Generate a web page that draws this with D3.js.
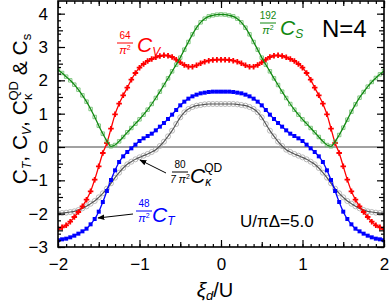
<!DOCTYPE html>
<html>
<head>
<meta charset="utf-8">
<script src="https://cdn.jsdelivr.net/npm/d3@7"></script>
<style>
  body { margin: 0; background: #fff; }
  svg { display: block; font-family: "Liberation Sans", Arial, sans-serif; }
</style>
</head>
<body>
<svg id="chart" width="390" height="303"></svg>
<script>
// xi_d / U sample points
const xi = [-2, -1.95, -1.9, -1.85, -1.8, -1.75, -1.7, -1.65, -1.6, -1.55, -1.5, -1.45, -1.4, -1.35, -1.3, -1.25, -1.2, -1.15, -1.1, -1.05,
  -1, -0.95, -0.9, -0.85, -0.8, -0.75, -0.7, -0.65, -0.6, -0.55, -0.5, -0.45, -0.4, -0.35, -0.3, -0.25, -0.2, -0.15, -0.1, -0.05,
  0, 0.05, 0.1, 0.15, 0.2, 0.25, 0.3, 0.35, 0.4, 0.45, 0.5, 0.55, 0.6, 0.65, 0.7, 0.75, 0.8, 0.85, 0.9, 0.95,
  1, 1.05, 1.1, 1.15, 1.2, 1.25, 1.3, 1.35, 1.4, 1.45, 1.5, 1.55, 1.6, 1.65, 1.7, 1.75, 1.8, 1.85, 1.9, 1.95, 2];

// 192/pi^2 C_s
const cS = [2.32, 2.22, 2.11, 2.00, 1.87, 1.72, 1.55, 1.36, 1.14, 0.90, 0.64, 0.40, 0.18, 0.02, 0.06, 0.17, 0.30, 0.44, 0.57, 0.70,
  0.83, 0.97, 1.12, 1.29, 1.47, 1.66, 1.86, 2.06, 2.27, 2.47, 2.68, 2.92, 3.15, 3.38, 3.58, 3.74, 3.85, 3.92, 3.95, 3.97,
  3.98, 3.97, 3.95, 3.92, 3.85, 3.74, 3.58, 3.38, 3.15, 2.92, 2.68, 2.47, 2.27, 2.06, 1.86, 1.66, 1.47, 1.29, 1.12, 0.97,
  0.83, 0.70, 0.57, 0.44, 0.30, 0.17, 0.06, 0.02, 0.16, 0.36, 0.58, 0.82, 1.06, 1.28, 1.48, 1.65, 1.81, 1.95, 2.07, 2.18, 2.28];

// 64/pi^2 C_V
const cV = [-2.46, -2.41, -2.35, -2.24, -2.10, -1.95, -1.78, -1.58, -1.33, -0.98, -0.58, -0.18, 0.12, 0.55, 0.98, 1.30, 1.55, 1.78, 2.02, 2.22,
  2.38, 2.49, 2.58, 2.64, 2.69, 2.73, 2.75, 2.74, 2.70, 2.62, 2.54, 2.46, 2.41, 2.41, 2.45, 2.51, 2.56, 2.59, 2.61, 2.62,
  2.62, 2.62, 2.61, 2.59, 2.56, 2.51, 2.45, 2.41, 2.41, 2.46, 2.54, 2.62, 2.70, 2.74, 2.75, 2.73, 2.69, 2.64, 2.58, 2.49,
  2.38, 2.22, 2.02, 1.78, 1.55, 1.30, 0.98, 0.55, 0.12, -0.18, -0.58, -0.98, -1.33, -1.58, -1.78, -1.95, -2.10, -2.24, -2.35, -2.41, -2.46];

// 48/pi^2 C_T
const cT = [-2.80, -2.77, -2.75, -2.71, -2.66, -2.60, -2.53, -2.45, -2.32, -2.16, -1.94, -1.65, -1.32, -0.99, -0.70, -0.45, -0.28, -0.15, -0.04, 0.07,
  0.18, 0.26, 0.33, 0.40, 0.50, 0.61, 0.72, 0.84, 0.97, 1.11, 1.25, 1.36, 1.45, 1.52, 1.57, 1.61, 1.63, 1.65, 1.66, 1.66,
  1.66, 1.66, 1.66, 1.65, 1.63, 1.61, 1.57, 1.52, 1.45, 1.36, 1.25, 1.11, 0.97, 0.84, 0.72, 0.61, 0.50, 0.40, 0.33, 0.26,
  0.18, 0.07, -0.04, -0.15, -0.28, -0.45, -0.70, -0.99, -1.32, -1.65, -1.94, -2.16, -2.32, -2.45, -2.53, -2.60, -2.66, -2.71, -2.75, -2.77, -2.80];

// 80/(7 pi^2) C_kappa^QD
const cK = [-1.99, -1.98, -1.97, -1.95, -1.93, -1.89, -1.84, -1.78, -1.70, -1.62, -1.51, -1.39, -1.25, -1.09, -0.92, -0.77, -0.63, -0.52, -0.44, -0.37,
  -0.31, -0.26, -0.21, -0.15, -0.08, 0.03, 0.16, 0.32, 0.49, 0.69, 0.89, 1.04, 1.14, 1.20, 1.24, 1.26, 1.28, 1.29, 1.29, 1.29,
  1.29, 1.29, 1.29, 1.29, 1.28, 1.26, 1.24, 1.20, 1.14, 1.04, 0.89, 0.69, 0.49, 0.32, 0.16, 0.03, -0.08, -0.15, -0.21, -0.26,
  -0.31, -0.37, -0.44, -0.52, -0.63, -0.77, -0.92, -1.09, -1.25, -1.39, -1.51, -1.62, -1.70, -1.78, -1.84, -1.89, -1.93, -1.95, -1.97, -1.98, -1.99];

const xMajor = [-2, -1, 0, 1, 2];
const yMajor = [-3, -2, -1, 0, 1, 2, 3, 4];

const svg = d3.select('#chart');
const margin = { top: 1, right: 6, bottom: 56, left: 58 };
const width = 390 - margin.left - margin.right;
const height = 303 - margin.top - margin.bottom;

const x = d3.scaleLinear().domain([-2, 2]).range([0, width]);
const y = d3.scaleLinear().domain([-3, 4.38]).range([height, 0]);

const graph = svg.append('g').attr('transform', `translate(${margin.left},${margin.top})`);

graph.append('clipPath').attr('id', 'clip')
  .append('rect').attr('width', width).attr('height', height);

//zero line
graph.append('line')
  .attr('x1', 0).attr('x2', width)
  .attr('y1', y(0)).attr('y2', y(0))
  .attr('stroke', '#444').attr('stroke-width', 1);

const plot = graph.append('g').attr('clip-path', 'url(#clip)');

const series = [
  { vals: cK, line: '#555', width: 1.2, sym: d3.symbolCircle, size: 20, fill: 'none', stroke: '#aaa' },
  { vals: cT, line: '#0000ff', width: 1.3, sym: d3.symbolSquare, size: 16, fill: '#0000ff', stroke: 'none' },
  { vals: cV, line: '#ff0000', width: 1.3, sym: d3.symbolCross, size: 17, fill: '#ff0000', stroke: 'none' },
  { vals: cS, line: '#118811', width: 1.3, sym: d3.symbolSquare, size: 12, fill: 'none', stroke: '#66bb66' }
];

const line = d3.line().x((d, i) => x(xi[i])).y(d => y(d)).curve(d3.curveMonotoneX);

series.forEach(s => {
  const g = plot.append('g');
  // markers
  g.selectAll('path.pt').data(s.vals).enter()
    .append('path')
    .attr('class', 'pt')
    .attr('transform', (d, i) => `translate(${x(xi[i])},${y(d)})`)
    .attr('d', d3.symbol().type(s.sym).size(s.size))
    .attr('fill', s.fill)
    .attr('stroke', s.stroke)
    .attr('stroke-width', 0.8);
  g.append('path')
    .datum(s.vals)
    .attr('fill', 'none')
    .attr('stroke', s.line)
    .attr('stroke-width', s.width)
    .attr('d', line);
});

//axes: ticks pointing inward on all four sides
const xMinor = d3.range(-20, 21).map(i => i / 10);
const xMid = [-1.5, -0.5, 0.5, 1.5];
const yMinor = d3.range(-15, 22).map(i => i / 5);
const yMid = [-2.5, -1.5, -0.5, 0.5, 1.5, 2.5, 3.5];

const tickLevels = [[xMinor, yMinor, 3], [xMid, yMid, 5], [xMajor, yMajor, 7]];

tickLevels.forEach(([xv, yv, len], k) => {
  const last = k === 2;
  graph.append('g').attr('class', 'axis').attr('transform', `translate(0,${height})`)
    .call(d3.axisBottom(x).tickValues(xv).tickSize(-len).tickPadding(len + 4)
      .tickFormat(last ? d3.format('d') : ''));
  graph.append('g').attr('class', 'axis')
    .call(d3.axisTop(x).tickValues(xv).tickSize(-len).tickFormat(''));
  graph.append('g').attr('class', 'axis')
    .call(d3.axisLeft(y).tickValues(yv.filter(v => v <= 4.38)).tickSize(-len).tickPadding(len + 3)
      .tickFormat(last ? d3.format('d') : ''));
  graph.append('g').attr('class', 'axis').attr('transform', `translate(${width},0)`)
    .call(d3.axisRight(y).tickValues(yv.filter(v => v <= 4.38)).tickSize(-len).tickFormat(''));
});

graph.selectAll('.axis .domain').remove();
graph.selectAll('.axis line').attr('stroke', '#000').attr('stroke-width', 1.2);
graph.selectAll('.axis text').attr('font-size', 17).attr('fill', '#000')
  .attr('font-family', '"Liberation Sans", Arial, sans-serif');

graph.append('rect')
  .attr('width', width).attr('height', height)
  .attr('fill', 'none').attr('stroke', '#000').attr('stroke-width', 1.6);

//text helper: parts = [text, size, dx, dy, italic]
const rich = (sel, parts) => {
  parts.forEach(([t, size, dx, dy, it]) => {
    sel.append('tspan')
      .attr('font-size', size)
      .attr('dx', dx || 0)
      .attr('dy', dy || 0)
      .attr('font-style', it ? 'italic' : 'normal')
      .text(t);
  });
};

const frac = (cx, num, yBar, color) => {
  svg.append('text').attr('x', cx).attr('y', yBar - 4).attr('text-anchor', 'middle')
    .attr('font-size', 10).attr('fill', color).text(num);
  svg.append('line').attr('x1', cx - 8).attr('x2', cx + 8).attr('y1', yBar).attr('y2', yBar)
    .attr('stroke', color).attr('stroke-width', 1);
  return svg.append('text').attr('x', cx).attr('y', yBar + 11).attr('text-anchor', 'middle')
    .attr('fill', color);
};

// C_V label
rich(frac(125, '64', 43, '#ff0000'), [['π', 11, 0, 0, true], ['2', 7, 0, -4, false]]);
rich(svg.append('text').attr('x', 137).attr('y', 52).attr('fill', '#ff0000'),
  [['C', 21, 0, 0, true], ['V', 12, 0, 4, true]]);

// C_s label
rich(frac(268, '192', 23, '#118811'), [['π', 11, 0, 0, true], ['2', 7, 0, -4, false]]);
rich(svg.append('text').attr('x', 280).attr('y', 35).attr('fill', '#118811'),
  [['C', 21, 0, 0, true], ['S', 12, 0, 3, true]]);

// N=4
svg.append('text').attr('x', 322).attr('y', 37).attr('font-size', 24).text('N=4');

// C_kappa label
rich(frac(180, '80', 172, '#000'), [['7 ', 10, 0, 0, true], ['π', 11, 0, 0, true], ['2', 7, 0, -4, false]]);
rich(svg.append('text').attr('x', 190).attr('y', 183),
  [['C', 21, 0, 0, true], ['κ', 12, 0, 3, true], ['QD', 12, -7, -14, false]]);

// C_T label
rich(frac(144, '48', 211, '#0000ff'), [['π', 11, 0, 0, true], ['2', 7, 0, -4, false]]);
rich(svg.append('text').attr('x', 152).attr('y', 222).attr('fill', '#0000ff'),
  [['C', 21, 0, 0, true], ['T', 12, 0, 3, true]]);

// U / pi Delta
svg.append('text').attr('x', 240).attr('y', 227).attr('font-size', 17).text('U/πΔ=5.0');

// arrows
svg.append('defs').append('marker')
  .attr('id', 'head').attr('viewBox', '0 0 10 10').attr('refX', 9).attr('refY', 5)
  .attr('markerWidth', 7).attr('markerHeight', 7).attr('orient', 'auto')
  .append('path').attr('d', 'M0,1L10,5L0,9z').attr('fill', '#000');

svg.append('line').attr('x1', 166).attr('y1', 173).attr('x2', 140).attr('y2', 160)
  .attr('stroke', '#000').attr('stroke-width', 1).attr('marker-end', 'url(#head)');
svg.append('line').attr('x1', 133).attr('y1', 214).attr('x2', 98).attr('y2', 218)
  .attr('stroke', '#000').attr('stroke-width', 1).attr('marker-end', 'url(#head)');

// axis titles
rich(svg.append('text').attr('x', 215).attr('y', 297).attr('text-anchor', 'middle'),
  [['ξ', 21, 0, 0, true], ['d', 13, 0, 3, true], ['/U', 20, 0, -3, false]]);

rich(svg.append('text').attr('transform', 'translate(27,109) rotate(-90)').attr('text-anchor', 'middle'),
  [['C', 21, 0, 0, false], ['T', 12, 0, 4, true], [',  C', 21, 0, -4, false], ['V', 12, 0, 4, true],
   [',  C', 21, 0, -4, false], ['κ', 13, 0, 5, false], ['QD', 13, -7, -14, false], ['  &  C', 21, 0, 9, false],
   ['s', 13, 0, 4, false]]);
</script>
</body>
</html>
